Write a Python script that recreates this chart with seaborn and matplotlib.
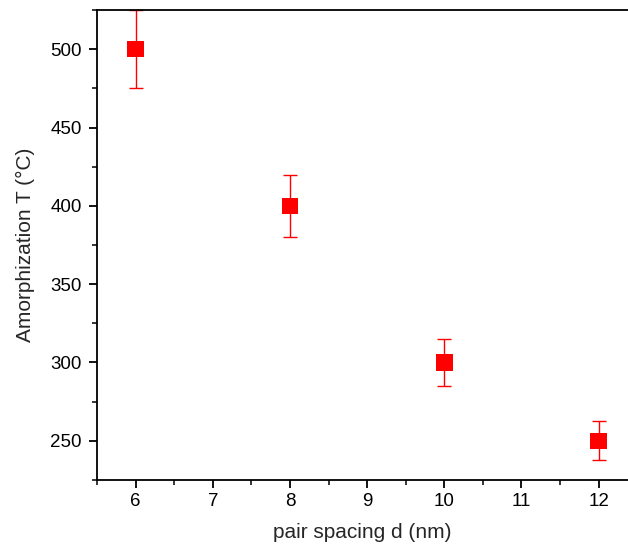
import seaborn as sns
import matplotlib.pyplot as plt
from matplotlib.ticker import MultipleLocator
import pandas as pd

spacing = [6, 8, 10, 12]
amorph_temp = [500, 400, 300, 250]
temp_err = [25, 20, 15, 12.5]

sns.set_style("ticks")
plt.rcParams["font.family"] = ["Liberation Sans", "DejaVu Sans"]

df = pd.DataFrame({"d": spacing, "T": amorph_temp, "err": temp_err})

fig = plt.figure(figsize=(6.28, 5.47), dpi=100)
ax = fig.add_axes([0.1545, 0.1225, 0.8455, 0.8592])

ax.errorbar(df["d"], df["T"], yerr=df["err"], fmt="none", ecolor="red",
            elinewidth=1, capsize=5, capthick=1, zorder=2, clip_on=False)
sns.scatterplot(data=df, x="d", y="T", marker="s", color="red", s=140,
                edgecolor="none", ax=ax, zorder=3)

ax.set_xlim(5.5, 12.38)
ax.set_ylim(225, 525)
ax.xaxis.set_major_locator(MultipleLocator(1))
ax.xaxis.set_minor_locator(MultipleLocator(0.5))
ax.yaxis.set_major_locator(MultipleLocator(50))
ax.yaxis.set_minor_locator(MultipleLocator(25))

for side in ["left", "bottom", "top"]:
    ax.spines[side].set_linewidth(1.3)
    ax.spines[side].set_color("black")
ax.spines["right"].set_visible(False)

ax.tick_params(which="major", direction="out", length=6, width=1.3,
               labelsize=13.5, colors="black", top=False, right=False)
ax.tick_params(axis="y", which="major", pad=5)
ax.tick_params(which="minor", direction="out", length=3.5, width=1.3,
               top=False, right=False)

ax.set_xlabel("pair spacing d (nm)", fontsize=15, labelpad=9)
ax.set_ylabel("Amorphization T (\u00b0C)", fontsize=15, labelpad=11)

fig.savefig("out.png", dpi=100)
